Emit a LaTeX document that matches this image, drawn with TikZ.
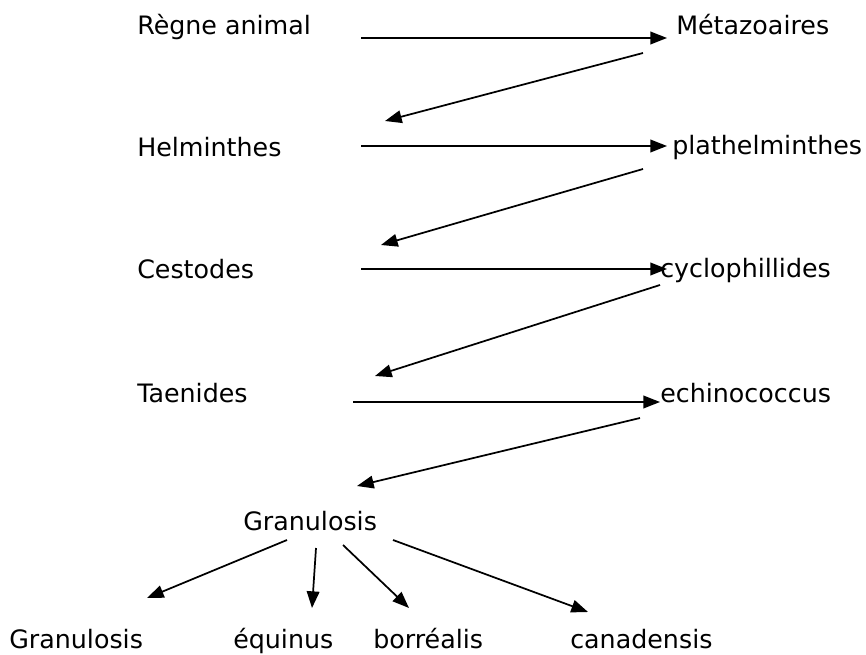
\documentclass[tikz,border=0pt]{standalone}
\usepackage{fontspec}
\setmainfont{DejaVu Sans}
\usetikzlibrary{arrows.meta}
\begin{document}
\begin{tikzpicture}[x=0.75pt,y=-0.75pt,
  lbl/.style={anchor=base west,inner sep=0pt,font=\fontsize{19pt}{22pt}\selectfont},
  arr/.style={line width=1.3pt,-{Triangle[length=12.5pt,width=9.5pt]}}]
\useasboundingbox (0,0) rectangle (866,655);
% labels
\node[lbl] (regne) at (137,35) {Règne animal};
\node[lbl] (meta) at (676,35) {Métazoaires};
\node[lbl] (helm) at (137,157) {Helminthes};
\node[lbl] (plat) at (672,155) {plathelminthes};
\node[lbl] (cest) at (137,279) {Cestodes};
\node[lbl] (cycl) at (660,278) {cyclophillides};
\node[lbl] (taen) at (137,402) {Taenides};
\node[lbl] (echi) at (660,402) {echinococcus};
\node[lbl] (gran) at (243,530) {Granulosis};
\node[lbl] (g2) at (9,648) {Granulosis};
\node[lbl] (equi) at (233,648) {équinus};
\node[lbl] (borr) at (373,648) {borréalis};
\node[lbl] (cana) at (570,648) {canadensis};
% arrow end points
\coordinate (h1s) at (361,38);  \coordinate (h1e) at (667,38);
\coordinate (d1s) at (643,53);  \coordinate (d1e) at (385,121);
\coordinate (h2s) at (361,146); \coordinate (h2e) at (667,146);
\coordinate (d2s) at (643,169); \coordinate (d2e) at (381,245);
\coordinate (h3s) at (361,269); \coordinate (h3e) at (667,269);
\coordinate (d3s) at (660,285); \coordinate (d3e) at (375,376);
\coordinate (h4s) at (353,402); \coordinate (h4e) at (660,402);
\coordinate (d4s) at (640,418); \coordinate (d4e) at (357,486);
\coordinate (b1s) at (287,540); \coordinate (b1e) at (147,598);
\coordinate (b2s) at (316,548); \coordinate (b2e) at (312,608);
\coordinate (b3s) at (343,545); \coordinate (b3e) at (409,608);
\coordinate (b4s) at (393,540); \coordinate (b4e) at (588,612);
% arrows
\draw[arr] (h1s) -- (h1e);
\draw[arr] (d1s) -- (d1e);
\draw[arr] (h2s) -- (h2e);
\draw[arr] (d2s) -- (d2e);
\draw[arr] (h3s) -- (h3e);
\draw[arr] (d3s) -- (d3e);
\draw[arr] (h4s) -- (h4e);
\draw[arr] (d4s) -- (d4e);
\draw[arr] (b1s) -- (b1e);
\draw[arr] (b2s) -- (b2e);
\draw[arr] (b3s) -- (b3e);
\draw[arr] (b4s) -- (b4e);
\end{tikzpicture}
\end{document}
